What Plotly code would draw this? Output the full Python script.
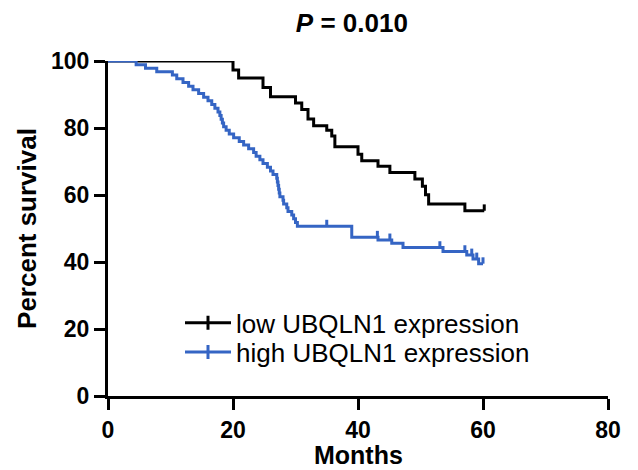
import plotly.graph_objects as go

# ---- data ----
low_months = [0, 20.0, 20.9, 24.8, 26.0, 30.0, 31.0, 32.0, 32.9, 35.0, 35.8, 36.3,
              40.0, 40.6, 43.2, 45.1, 49.1, 50.3, 50.8, 51.3, 57.1, 60.2]
low_surv = [100, 97.3, 94.9, 92.1, 89.3, 87.5, 85.5, 82.7, 80.7, 79.3, 77.6, 74.4,
            72.2, 70.2, 68.6, 66.7, 64.8, 62.6, 60.1, 57.3, 55.3, 55.3]
low_censor_months = [60.2]
low_censor_surv = [55.3]

high_months = [0, 4.5, 6.0, 7.8, 10.3, 11.0, 12.0, 12.9, 13.6, 14.5, 15.3, 16.0, 16.6,
               17.1, 17.6, 17.9, 18.1, 18.3, 18.5, 18.9, 19.4, 20.1, 21.0, 21.7, 22.5,
               23.3, 23.7, 24.3, 24.8, 25.5, 26.0, 26.4, 27.0, 27.1, 27.2, 27.3, 27.4,
               27.5, 28.0, 28.1, 28.6, 28.8, 29.4, 29.7, 30.0, 30.3, 39.0, 43.2, 45.4,
               47.2, 53.6, 57.4, 58.4, 59.3, 60.0]
high_surv = [100, 98.9, 97.8, 96.8, 95.8, 94.7, 93.6, 92.5, 91.4, 90.3, 89.2, 88.1, 87.0,
             85.9, 84.8, 83.7, 82.6, 81.5, 80.4, 79.3, 78.2, 77.1, 76.0, 74.9, 73.8,
             72.7, 71.6, 70.5, 69.4, 68.3, 67.2, 66.1, 65.0, 63.9, 62.8, 61.7, 60.6,
             59.5, 58.4, 57.3, 56.2, 55.1, 54.0, 52.9, 51.8, 50.7, 47.4, 46.6, 45.6,
             44.3, 43.1, 42.1, 40.9, 39.5, 39.5]
high_censor_months = [3.9, 35.0, 43.1, 45.1, 53.1, 57.1, 58.2, 59.0, 60.0]
high_censor_surv = [100, 50.7, 47.4, 46.6, 44.3, 43.1, 42.1, 40.9, 39.5]

series_names = ["low UBQLN1 expression", "high UBQLN1 expression"]
title_text = "<i>P</i> = 0.010"
x_title = "Months"
y_title = "Percent survival"
x_ticks = [0, 20, 40, 60, 80]
y_ticks = [0, 20, 40, 60, 80, 100]

BLACK = "#000000"
BLUE = "#3565C4"
FONT = "Liberation Sans, Arial, sans-serif"

fig = go.Figure()

for xs, ys, cx, cy, name, col, lg in [
    (low_months, low_surv, low_censor_months, low_censor_surv, series_names[0], BLACK, "legend"),
    (high_months, high_surv, high_censor_months, high_censor_surv, series_names[1], BLUE, "legend2"),
]:
    # survival step curve
    fig.add_trace(go.Scatter(
        x=xs, y=ys, mode="lines", showlegend=False,
        line=dict(color=col, width=3, shape="hv"),
        cliponaxis=False, hoverinfo="skip",
    ))
    # censor ticks (upward marks)
    fig.add_trace(go.Scatter(
        x=cx, y=cy, mode="markers", showlegend=False,
        marker=dict(size=0.1, color=col),
        error_y=dict(type="data", symmetric=False, array=[1.9] * len(cx),
                     arrayminus=[0] * len(cx), width=0, thickness=3, color=col),
        cliponaxis=False, hoverinfo="skip",
    ))
    # legend entry (line with censor tick)
    fig.add_trace(go.Scatter(
        x=[None], y=[None], mode="lines+markers", name=name, legend=lg,
        line=dict(color=col, width=3),
        marker=dict(symbol="line-ns-open", size=10, color=col,
                    line=dict(color=col, width=3)),
    ))

axis_common = dict(
    showline=True, linewidth=3, linecolor=BLACK, mirror=False,
    ticks="outside", ticklen=11, tickwidth=3, tickcolor=BLACK,
    showgrid=False, zeroline=False, automargin=False,
    tickfont=dict(family=FONT, size=23, color=BLACK, weight="bold"),
)

legend_common = dict(xanchor="left", yanchor="middle", bgcolor="rgba(0,0,0,0)",
                     itemwidth=46,
                     font=dict(family=FONT, size=26, color=BLACK))

fig.update_layout(
    width=638, height=470,
    paper_bgcolor="white", plot_bgcolor="white",
    margin=dict(l=100, r=38, t=53, b=82, autoexpand=False),
    title=dict(text=title_text, x=0.539, xanchor="center", y=0.968, yanchor="middle",
               yref="container", automargin=False,
               font=dict(family=FONT, size=26, color=BLACK, weight="bold")),
    xaxis=dict(range=[0, 80], tickvals=x_ticks, **axis_common),
    yaxis=dict(range=[0, 100], tickvals=y_ticks,
               title=dict(text=y_title, standoff=7,
                          font=dict(family=FONT, size=26, color=BLACK, weight="bold")),
               **axis_common),
    legend=dict(x=0.144, y=0.218, **legend_common),
    legend2=dict(x=0.144, y=0.131, **legend_common),
    showlegend=True,
    annotations=[dict(text=x_title, xref="paper", yref="paper", x=0.5, y=-0.175,
                      xanchor="center", yanchor="middle", showarrow=False,
                      font=dict(family=FONT, size=25, color=BLACK, weight="bold"))],
)

fig.write_html("out.html")
